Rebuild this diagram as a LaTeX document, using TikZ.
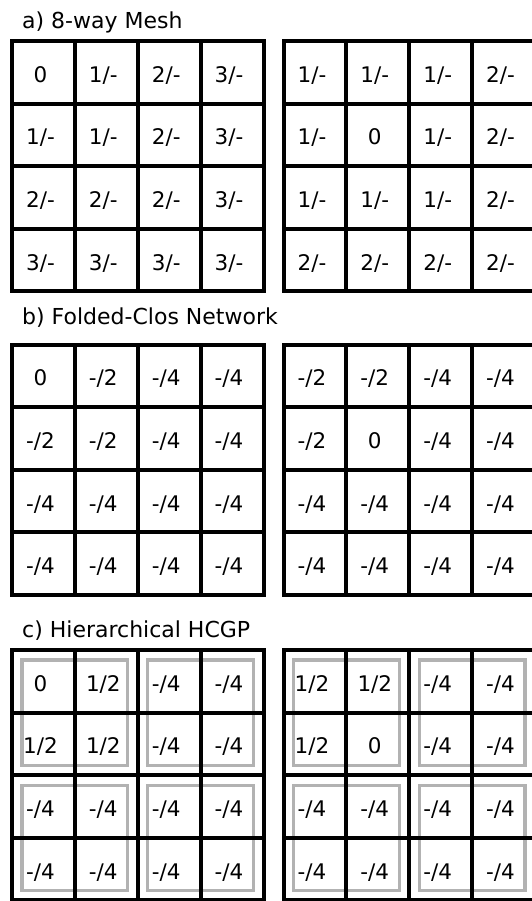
\documentclass[tikz,border=0pt]{standalone}
\usepackage{fontspec}
\setmainfont{DejaVu Sans}
\usetikzlibrary{positioning}

\newcommand{\cellW}{62.875}
\newcommand{\cellH}{62.6}
% one 4x4 table: name, left x, top y, rows of values
\newcommand{\meshgrid}[4]{%
  \draw[gridline] (#2,#3) rectangle ++(4*\cellW,4*\cellH);
  \foreach \k in {1,2,3}{
    \draw[gridline] ({#2+\k*\cellW},#3) -- ++(0,4*\cellH);
    \draw[gridline] (#2,{#3+\k*\cellH}) -- ++(4*\cellW,0);
  }
  \foreach \rowvals [count=\r] in {#4}{
    \foreach \v [count=\c] in \rowvals{
      \node[val] (#1-\r-\c) at ({#2+(\c-0.5)*\cellW-3},{#3+(\r-0.5)*\cellH+10}) {\v};
    }
  }
}
% grey 2x2 groups of the hierarchical table
\newcommand{\hcgpgroups}[2]{%
  \foreach \i in {0,1}{
    \foreach \j in {0,1}{
      \draw[group] ({#1+2*\i*\cellW+10},{#2+2*\j*\cellH+10}) rectangle ({#1+2*(\i+1)*\cellW-10},{#2+2*(\j+1)*\cellH-10});
    }
  }
}

\begin{document}
\begin{tikzpicture}[x=1pt, y=-1pt,
    gridline/.style={draw=black, line width=4pt},
    group/.style={draw=black!30, line width=3.2pt},
    val/.style={font=\fontsize{21.5}{25}\selectfont, anchor=base, inner sep=0pt},
    title/.style={font=\fontsize{22}{26}\selectfont, anchor=base west, inner sep=0pt},
]
\useasboundingbox (0,0) rectangle (532,901);
\clip (0,0) rectangle (532,901);
\fill[white] (0,0) rectangle (532,901);

% a) mesh
\node[title] (titleA) at (22,29) {a) 8-way Mesh};
\meshgrid{meshL}{12}{41}{{0,1/-,2/-,3/-},{1/-,1/-,2/-,3/-},{2/-,2/-,2/-,3/-},{3/-,3/-,3/-,3/-}}
\meshgrid{meshR}{283.5}{41}{{1/-,1/-,1/-,2/-},{1/-,0,1/-,2/-},{1/-,1/-,1/-,2/-},{2/-,2/-,2/-,2/-}}

% b) folded clos
\node[title] (titleB) at (22,324) {b) Folded-Clos Network};
\meshgrid{closL}{12}{344.5}{{0,-/2,-/4,-/4},{-/2,-/2,-/4,-/4},{-/4,-/4,-/4,-/4},{-/4,-/4,-/4,-/4}}
\meshgrid{closR}{283.5}{344.5}{{-/2,-/2,-/4,-/4},{-/2,0,-/4,-/4},{-/4,-/4,-/4,-/4},{-/4,-/4,-/4,-/4}}

% c) hierarchical
\node[title] (titleC) at (22,637) {c) Hierarchical HCGP};
\hcgpgroups{12}{650}
\hcgpgroups{283.5}{650}
\meshgrid{hcgpL}{12}{650}{{0,1/2,-/4,-/4},{1/2,1/2,-/4,-/4},{-/4,-/4,-/4,-/4},{-/4,-/4,-/4,-/4}}
\meshgrid{hcgpR}{283.5}{650}{{1/2,1/2,-/4,-/4},{1/2,0,-/4,-/4},{-/4,-/4,-/4,-/4},{-/4,-/4,-/4,-/4}}
\end{tikzpicture}
\end{document}
